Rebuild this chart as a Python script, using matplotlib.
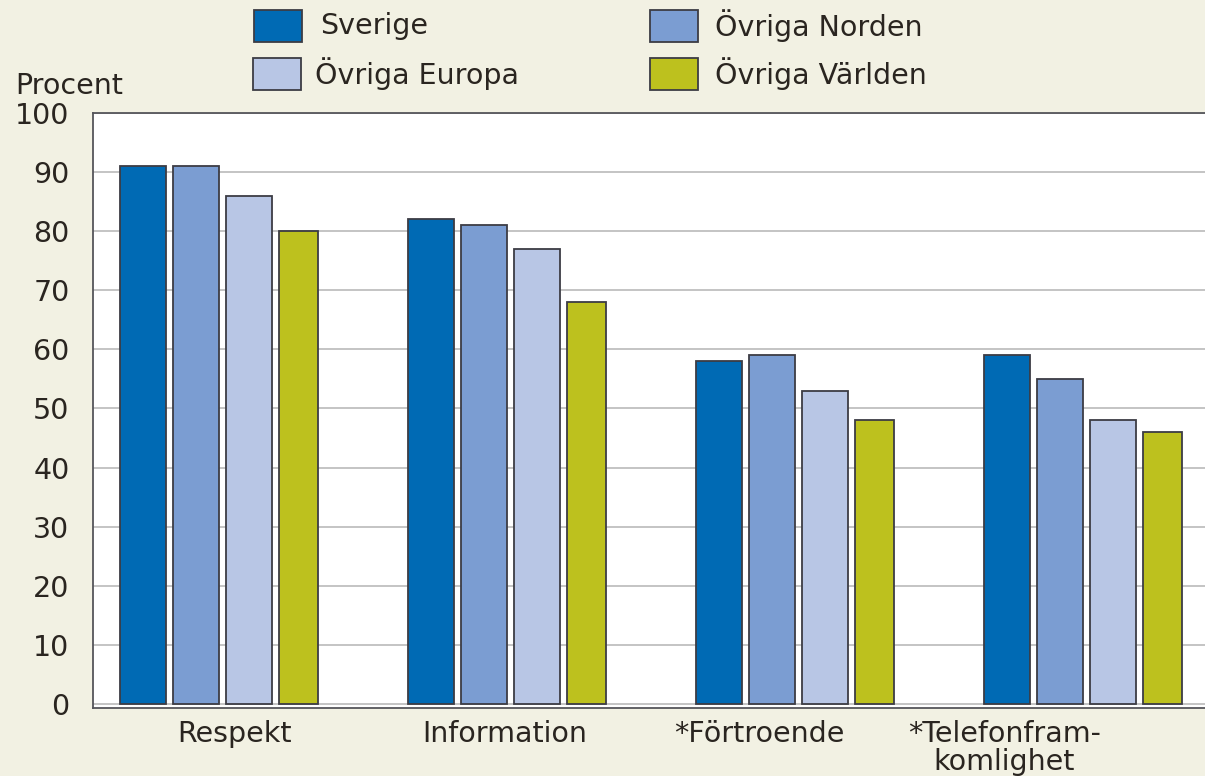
import matplotlib
matplotlib.use("Agg")
import matplotlib.pyplot as plt
from matplotlib.patches import Rectangle
import numpy as np

categories = ["Respekt", "Information", "*Förtroende", "*Telefonfram-\nkomlighet"]
series = ["Sverige", "Övriga Norden", "Övriga Europa", "Övriga Världen"]
sverige = [91, 82, 58, 59]
norden = [91, 81, 59, 55]
europa = [86, 77, 53, 48]
varlden = [80, 68, 48, 46]
yticks = [0, 10, 20, 30, 40, 50, 60, 70, 80, 90, 100]

values = [sverige, norden, europa, varlden]
colors = ["#006ab4", "#7b9dd2", "#b8c6e5", "#bdc11e"]
offsets = [-0.264, -0.080, 0.104, 0.276]
widths = [0.160, 0.160, 0.160, 0.135]
label_offsets = [0.052, -0.007, -0.125, -0.274]

W, H = 1205, 776
BG = "#f2f1e3"
TXT = "#2a2520"
FONT = "DejaVu Sans"
FS = 20.5

fig = plt.figure(figsize=(W / 100, H / 100), dpi=100, facecolor=BG)
ax = fig.add_axes([93 / W, (H - 708) / H, 1.002 - 93 / W, (708 - 113) / H])
ax.set_facecolor("white")

x = np.arange(len(categories))
for j, vals in enumerate(values):
    ax.bar(x + offsets[j], vals, width=widths[j], color=colors[j],
           edgecolor="#3c3c44", linewidth=1.3, zorder=3, label=series[j])

ax.set_ylim(-0.7, 100)
ax.set_xlim(-0.4375, 3.431)
ax.set_yticks(yticks)
ax.set_yticklabels([str(v) for v in yticks], fontfamily=FONT, fontsize=FS, color=TXT)
ax.yaxis.grid(True, color="#c4c4c4", linewidth=1.4, zorder=0)
ax.set_axisbelow(True)
ax.tick_params(axis="y", length=0, pad=17)
ax.set_xticks(x + np.array(label_offsets))
ax.set_xticklabels(categories, fontfamily=FONT, fontsize=FS, color=TXT,
                   linespacing=0.98)
ax.tick_params(axis="x", length=0, pad=9)
for s in ["left", "bottom", "top"]:
    ax.spines[s].set_color("#55555a")
    ax.spines[s].set_linewidth(1.3)
ax.spines["right"].set_visible(False)

fig.text(15 / W, 1 - 86 / H, "Procent", fontfamily=FONT, fontsize=FS, color=TXT,
         ha="left", va="center")

# legend, laid out manually to match the reference
leg_pos = [(254, 26, 320), (650, 26, 715), (253, 74, 315), (650, 74, 715)]
for j, (bx, cy, tx) in enumerate(leg_pos):
    fig.add_artist(Rectangle((bx / W, 1 - (cy + 16) / H), 48 / W, 32 / H,
                             transform=fig.transFigure, facecolor=colors[j],
                             edgecolor="#3c3c44", linewidth=1.3))
    fig.text(tx / W, 1 - cy / H, series[j], fontfamily=FONT, fontsize=FS,
             color=TXT, ha="left", va="center")

fig.savefig("out.png", dpi=100, facecolor=BG)
